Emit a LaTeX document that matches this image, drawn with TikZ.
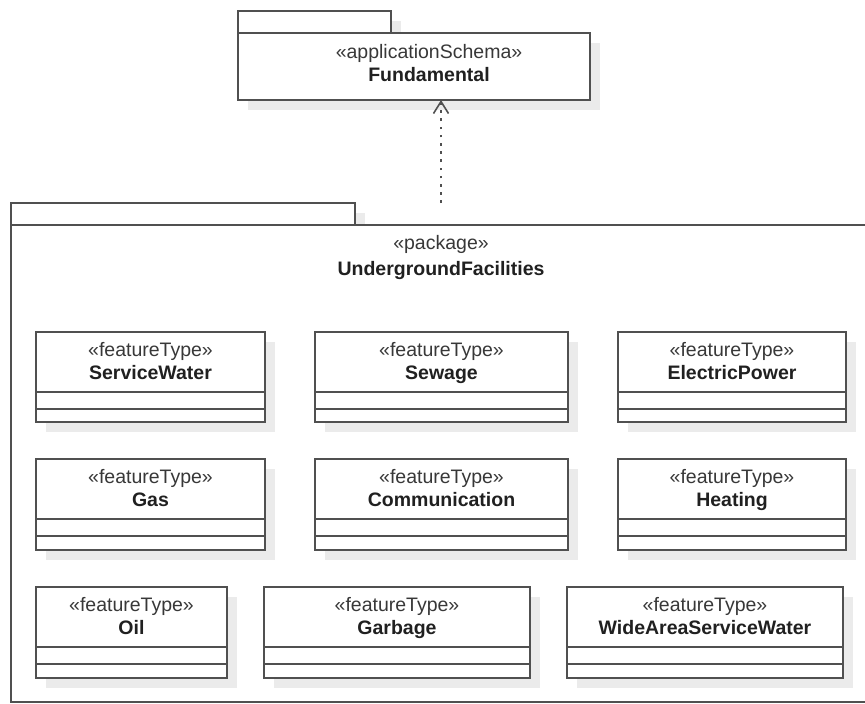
\documentclass[tikz,border=0pt]{standalone}
\usepackage{fontspec}
\setmainfont{Liberation Sans}
\usetikzlibrary{arrows.meta}

\definecolor{umlline}{HTML}{505050}
\definecolor{umlshadow}{HTML}{EBEBEB}
\definecolor{umltext}{HTML}{202020}
\definecolor{umlstereo}{HTML}{383838}

\tikzset{
  boxline/.style={draw=umlline, line width=2pt},
  umlbox/.style={boxline, fill=white, rectangle, inner sep=0pt, outer sep=0pt, anchor=north west},
  stereo/.style={font=\fontsize{19.5}{22}\selectfont, text=umlstereo, anchor=base, inner sep=0pt},
  clsname/.style={font=\fontsize{19.5}{22}\selectfont\bfseries, text=umltext, anchor=base, inner sep=0pt},
  dependency/.style={draw=umlline, line width=2.4pt, dash pattern=on 2.6pt off 5.6pt,
    -{Straight Barb[length=12pt,width=15pt,line width=1.6pt]}}
}

% #1 node name, #2 left, #3 top, #4 right, #5 bottom, #6 class name
\newcommand\featuretype[6]{%
  \fill[umlshadow] (#2+10,#3+10) rectangle (#4+10,#5+10);
  \node[umlbox, minimum width=#4-#2, minimum height=#5-#3] (#1) at (#2,#3) {};
  \draw[boxline] ([yshift=-60pt]#1.north west) -- ([yshift=-60pt]#1.north east);
  \draw[boxline] ([yshift=-76.5pt]#1.north west) -- ([yshift=-76.5pt]#1.north east);
  \node[stereo] (#1-st) at ([yshift=-24pt]#1.north) {«featureType»};
  \node[clsname] (#1-nm) at ([yshift=-47pt]#1.north) {#6};
}

\begin{document}
\begin{tikzpicture}[x=1pt, y=-1pt]
  \useasboundingbox (0,0) rectangle (865,704);

  % Fundamental application schema
  \fill[umlshadow] (248,21) rectangle (401,43);
  \fill[umlshadow] (248,43) rectangle (600,110);
  \node[umlbox, minimum width=153, minimum height=22] (fundtab) at (238,11) {};
  \node[umlbox, minimum width=352, minimum height=67] (fund) at (238,33) {};
  \node[stereo] (fundst) at (429,58) {«applicationSchema»};
  \node[clsname] (fundnm) at (429,81) {Fundamental};

  % UndergroundFacilities package
  \fill[umlshadow] (21,213) rectangle (365,235);
  \node[umlbox, minimum width=344, minimum height=22] (pkgtab) at (11,203) {};
  \node[umlbox, minimum width=860, minimum height=477] (pkg) at (11,225) {};
  \node[stereo] (pkgst) at (441,249) {«package»};
  \node[clsname] (pkgnm) at (441,275) {UndergroundFacilities};

  % dependency on Fundamental
  \coordinate (depstart) at (441,203);
  \draw[dependency] (depstart) -- (depstart |- fund.south);

  % feature types
  \featuretype{sw}{36}{332}{265}{422}{ServiceWater}
  \featuretype{sew}{315}{332}{568}{422}{Sewage}
  \featuretype{ep}{618}{332}{846}{422}{ElectricPower}
  \featuretype{gas}{36}{459}{265}{550}{Gas}
  \featuretype{com}{315}{459}{568}{550}{Communication}
  \featuretype{heat}{618}{459}{846}{550}{Heating}
  \featuretype{oil}{36}{587}{227}{678}{Oil}
  \featuretype{garb}{264}{587}{530}{678}{Garbage}
  \featuretype{wasw}{567}{587}{843}{678}{WideAreaServiceWater}
\end{tikzpicture}
\end{document}
